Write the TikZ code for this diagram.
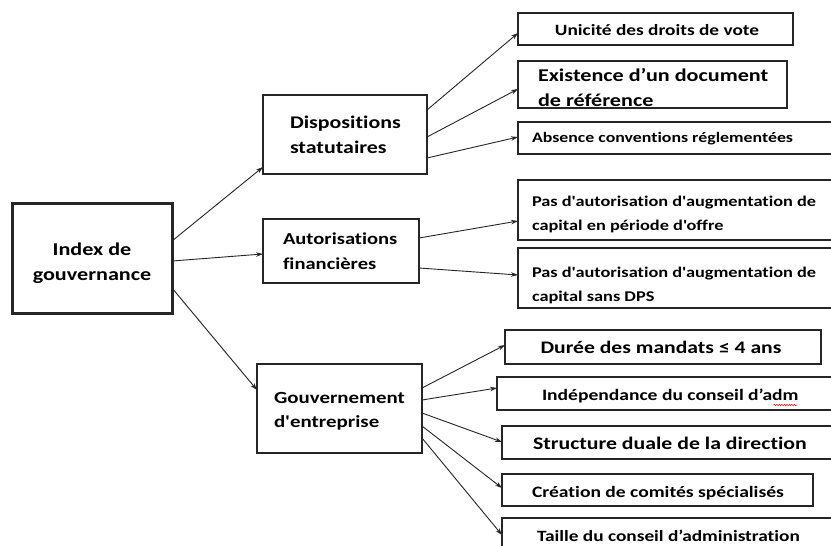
\documentclass[tikz,border=0pt]{standalone}
\usepackage{fontspec}
\newfontfamily\cb{Carlito}[FakeStretch=1.23, Ligatures={NoCommon}]
\usetikzlibrary{arrows.meta,decorations.pathmorphing}
\begin{document}
\begin{tikzpicture}[x=1pt,y=-1pt,
  bx/.style={draw=black!85, line width=1.3pt, inner sep=0pt, outer sep=0pt, anchor=north west, fill=white},
  bigbx/.style={bx, line width=3pt},
  txt/.style={inner sep=0pt, outer sep=0pt, font=\cb\bfseries, text=black},
  arr/.style={draw=black!85, line width=0.9pt, -{Stealth[length=7pt,width=4.5pt]}}
]
\useasboundingbox (0,0) rectangle (831,546);
\fill[white] (0,0) rectangle (831,546);

% boxes
\node[bigbx, minimum width=160pt, minimum height=110pt] (idx) at (12,203) {};
\node[bx, minimum width=164pt, minimum height=79pt] (disp) at (263,95) {};
\node[bx, minimum width=156pt, minimum height=64pt] (auto) at (263,219) {};
\node[bx, minimum width=165pt, minimum height=89pt] (gouv) at (257,364) {};

\node[bx, minimum width=275pt, minimum height=32pt] (uni) at (518,13) {};
\node[bx, minimum width=269pt, minimum height=47pt] (exi) at (518,61) {};
\node[bx, minimum width=316pt, minimum height=32pt] (abs) at (518,122) {};
\node[bx, minimum width=316pt, minimum height=60pt] (pasa) at (518,180) {};
\node[bx, minimum width=316pt, minimum height=60pt] (pasb) at (518,248) {};

\node[bx, minimum width=316pt, minimum height=34pt] (dur) at (505,330) {};
\node[bx, minimum width=336pt, minimum height=33pt] (ind) at (497,377) {};
\node[bx, minimum width=331pt, minimum height=33pt] (str) at (502,426) {};
\node[bx, minimum width=311pt, minimum height=32pt] (cre) at (502,474) {};
\node[bx, minimum width=331pt, minimum height=42pt] (tai) at (502,518) {};

% texts
\node[txt, align=center, font=\cb\bfseries\fontsize{18pt}{25pt}\selectfont] (idxT) at (92,263) {Index de\\gouvernance};
\node[txt, align=left, anchor=west, font=\cb\bfseries\fontsize{17.8pt}{25pt}\selectfont] (dispT) at (290,135) {Dispositions\\statutaires};
\node[txt, align=left, anchor=west, font=\cb\bfseries\fontsize{16.7pt}{25pt}\selectfont] (autoT) at (283,251.5) {Autorisations\\financières};
\node[txt, align=left, anchor=west, font=\cb\bfseries\fontsize{17pt}{24pt}\selectfont] (gouvT) at (274,411) {Gouvernement\\d'entreprise};

\node[txt, anchor=base, font=\cb\bfseries\fontsize{15.7pt}{19pt}\selectfont] (uniT) at (657,35) {Unicité des droits de vote};
\node[txt, align=left, anchor=west, font=\cb\bfseries\fontsize{18pt}{25pt}\selectfont] (exiT) at (538,88) {Existence d’un document\\de référence};
\node[txt, anchor=base west, font=\cb\bfseries\fontsize{14.5pt}{18pt}\selectfont] (absT) at (532,142.6) {Absence conventions réglementées};
\node[txt, align=left, anchor=west, font=\cb\bfseries\fontsize{14.9pt}{24pt}\selectfont] (pasaT) at (532,214) {Pas d'autorisation d'augmentation de\\capital en période d'offre};
\node[txt, align=left, anchor=west, font=\cb\bfseries\fontsize{14.9pt}{24pt}\selectfont] (pasbT) at (532,285) {Pas d'autorisation d'augmentation de\\capital sans DPS};

\node[txt, anchor=base, font=\cb\bfseries\fontsize{17.6pt}{21pt}\selectfont] (durT) at (661,353.5) {Durée des mandats ≤ 4 ans};
\node[txt, anchor=base west, font=\cb\bfseries\fontsize{15.9pt}{19pt}\selectfont] (indT) at (542,400) {Indépendance du conseil d’adm};
\node[txt, anchor=base west, font=\cb\bfseries\fontsize{17.7pt}{21pt}\selectfont] (strT) at (533,449) {Structure duale de la direction};
\node[txt, anchor=base, font=\cb\bfseries\fontsize{15.9pt}{19pt}\selectfont] (creT) at (658,497) {Création de comités spécialisés};
\node[txt, anchor=base west, font=\cb\bfseries\fontsize{15.7pt}{19pt}\selectfont] (taiT) at (537,541.5) {Taille du conseil d’administration};

% spell-check squiggle
\draw[red, line width=0.5pt, decorate, decoration={snake, segment length=2.5pt, amplitude=0.7pt}] (indT.base east |- 0,405) ++(-25,0) -- ++(24,0);

% connectors
\draw[arr] (idx.east |- 0,241) -- (disp.west |- 0,167);
\draw[arr] (idx.east |- 0,261) -- (auto.west |- 0,254);
\draw[arr] (idx.east |- 0,288) -- (gouv.west |- 0,390);

\draw[arr] (disp.east |- 0,110) -- (uni.west |- 0,33);
\draw[arr] (disp.east |- 0,137) -- (exi.west |- 0,89);
\draw[arr] (disp.east |- 0,158) -- (abs.west |- 0,137);

\draw[arr] (auto.east |- 0,238) -- (pasa.west |- 0,221);
\draw[arr] (auto.east |- 0,268) -- (pasb.west |- 0,275);

\draw[arr] (gouv.east |- 0,388) -- (dur.west |- 0,345);
\draw[arr] (gouv.east |- 0,400) -- (ind.west |- 0,388);
\draw[arr] (gouv.east |- 0,413) -- (str.west |- 0,442);
\draw[arr] (gouv.east |- 0,426) -- (cre.west |- 0,488);
\draw[arr] (gouv.east |- 0,438) -- (tai.west |- 0,535);
\end{tikzpicture}
\end{document}
